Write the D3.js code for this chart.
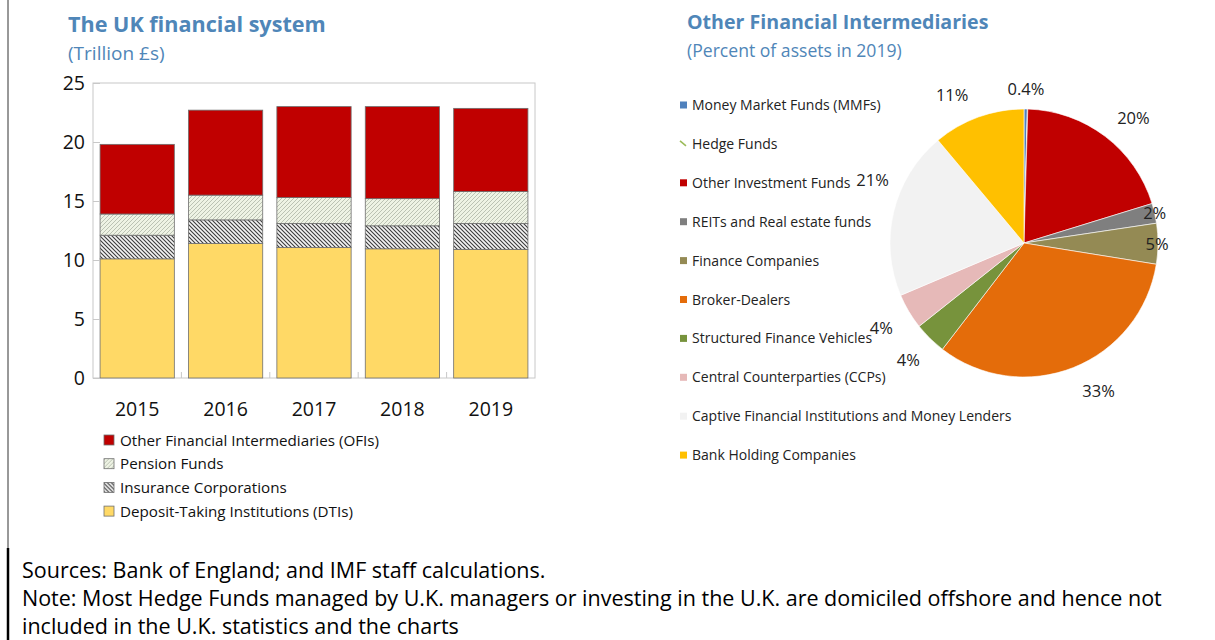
<!DOCTYPE html>
<html>
<head>
<meta charset="utf-8">
<script src="https://cdn.jsdelivr.net/npm/d3@7"></script>
<style>
  body { margin: 0; background: #fff; }
  text { font-family: "Open Sans", "Noto Sans", sans-serif; }
</style>
</head>
<body>
<script>
// bar chart data (trillion £)
var years = ["2015", "2016", "2017", "2018", "2019"];
var dtis = [10.1, 11.4, 11.05, 10.95, 10.9];
var insurance = [2.0, 2.0, 2.05, 1.95, 2.2];
var pensions = [1.8, 2.1, 2.2, 2.3, 2.7];
var ofis = [5.9, 7.2, 7.7, 7.8, 7.05];
var yTicks = [0, 5, 10, 15, 20, 25];

// pie data (percent of OFI assets in 2019)
var pieNames = ["Money Market Funds (MMFs)", "Hedge Funds", "Other Investment Funds",
  "REITs and Real estate funds", "Finance Companies", "Broker-Dealers",
  "Structured Finance Vehicles", "Central Counterparties (CCPs)",
  "Captive Financial Institutions and Money Lenders", "Bank Holding Companies"];
var pieValues = [0.4, 0.05, 19.8, 2.4, 4.9, 32.9, 3.9, 4.3, 20.3, 11.1];
var pieLabels = ["0.4%", "", "20%", "2%", "5%", "33%", "4%", "4%", "21%", "11%"];

var w = 1215;
var h = 640;

var svg = d3.select("body")
            .append("svg")
            .attr("width", w)
            .attr("height", h);

svg.append("rect").attr("width", w).attr("height", h).attr("fill", "#fff");

// hatch patterns
var defs = svg.append("defs");
var pPen = defs.append("pattern")
    .attr("id", "pension")
    .attr("patternUnits", "userSpaceOnUse")
    .attr("width", 4).attr("height", 4);
pPen.append("rect").attr("width", 4).attr("height", 4).attr("fill", "#eef3e4");
pPen.append("path").attr("d", "M-1,1 l2,-2 M0,4 l4,-4 M3,5 l2,-2")
    .attr("stroke", "#b5bcae").attr("stroke-width", 0.9);

var pIns = defs.append("pattern")
    .attr("id", "insurance")
    .attr("patternUnits", "userSpaceOnUse")
    .attr("width", 4).attr("height", 4);
pIns.append("rect").attr("width", 4).attr("height", 4).attr("fill", "#f4f4f4");
pIns.append("path").attr("d", "M-1,3 l2,2 M0,0 l4,4 M3,-1 l2,2")
    .attr("stroke", "#3c3c3c").attr("stroke-width", 1.1);

var blue = "#4f86b8";

// ---------- left: stacked bars ----------
svg.append("text").attr("x", 68).attr("y", 32)
    .attr("font-size", 21.6).attr("font-weight", "bold").attr("fill", blue)
    .text("The UK financial system");
svg.append("text").attr("x", 68).attr("y", 60)
    .attr("font-size", 19).attr("fill", blue)
    .text("(Trillion £s)");

var plotL = 93, plotR = 535, plotT = 83, plotB = 378;

var x = d3.scaleBand()
    .domain(years)
    .range([plotL, plotR])
    .paddingInner(0.16)
    .paddingOuter(0.08);

var y = d3.scaleLinear()
    .domain([0, 25])
    .range([plotB, plotT]);

var series = [
  {key: "dti", name: "Deposit-Taking Institutions (DTIs)", vals: dtis, fill: "#ffd966"},
  {key: "ins", name: "Insurance Corporations", vals: insurance, fill: "url(#insurance)"},
  {key: "pen", name: "Pension Funds", vals: pensions, fill: "url(#pension)"},
  {key: "ofi", name: "Other Financial Intermediaries (OFIs)", vals: ofis, fill: "#c00000"}
];

var table = years.map(function(yr, i) {
  var row = {year: yr};
  series.forEach(function(s) { row[s.key] = s.vals[i]; });
  return row;
});

var stack = d3.stack().keys(series.map(function(s) { return s.key; }));
var stacked = stack(table);

// plot area frame
svg.append("rect")
    .attr("x", plotL).attr("y", plotT)
    .attr("width", plotR - plotL).attr("height", plotB - plotT)
    .attr("fill", "none").attr("stroke", "#c8c8c8").attr("stroke-width", 1);

var layers = svg.selectAll("g.layer")
    .data(stacked)
    .enter()
    .append("g")
    .attr("class", "layer")
    .attr("fill", function(d, i) { return series[i].fill; });

layers.selectAll("rect")
    .data(function(d) { return d; })
    .enter()
    .append("rect")
    .attr("x", function(d) { return x(d.data.year); })
    .attr("width", x.bandwidth())
    .attr("y", function(d) { return y(d[1]); })
    .attr("height", function(d) { return y(d[0]) - y(d[1]); })
    .attr("stroke", "#6f6f6f")
    .attr("stroke-width", 0.8);

// y axis (inside ticks)
var yAxis = d3.axisRight(y).tickValues(yTicks).tickSize(7).tickFormat("");
var yg = svg.append("g").attr("transform", "translate(" + plotL + ",0)").call(yAxis);
yg.select(".domain").remove();
yg.selectAll("line").attr("stroke", "#c8c8c8");

svg.selectAll("text.ytick")
    .data(yTicks)
    .enter()
    .append("text")
    .attr("class", "ytick")
    .attr("x", 85)
    .attr("y", function(d) { return y(d) + 7; })
    .attr("text-anchor", "end")
    .attr("font-size", 19.5)
    .attr("fill", "#111")
    .text(function(d) { return d; });

// category boundary ticks
var step = x.step();
svg.selectAll("line.xtick")
    .data(years.slice(1))
    .enter()
    .append("line")
    .attr("class", "xtick")
    .attr("x1", function(d) { return x(d) - (step - x.bandwidth()) / 2; })
    .attr("x2", function(d) { return x(d) - (step - x.bandwidth()) / 2; })
    .attr("y1", plotB).attr("y2", plotB - 6)
    .attr("stroke", "#c8c8c8");

svg.selectAll("text.xlab")
    .data(years)
    .enter()
    .append("text")
    .attr("class", "xlab")
    .attr("x", function(d) { return x(d) + x.bandwidth() / 2; })
    .attr("y", 416)
    .attr("text-anchor", "middle")
    .attr("font-size", 19.5)
    .attr("fill", "#111")
    .text(function(d) { return d; });

// bar legend (top series first)
var legendOrder = series.slice().reverse();
var lg = svg.selectAll("g.barlegend")
    .data(legendOrder)
    .enter()
    .append("g")
    .attr("class", "barlegend")
    .attr("transform", function(d, i) { return "translate(104," + (440 + i * 23.7) + ")"; });
lg.append("rect")
    .attr("x", 0).attr("y", -5).attr("width", 10).attr("height", 10)
    .attr("fill", function(d) { return d.fill; })
    .attr("stroke", "#6f6f6f").attr("stroke-width", 0.8);
lg.append("text")
    .attr("x", 16).attr("y", 5.5)
    .attr("font-size", 15.2)
    .attr("fill", "#111")
    .text(function(d) { return d.name; });

// ---------- right: pie ----------
svg.append("text").attr("x", 687).attr("y", 29)
    .attr("font-size", 19.6).attr("font-weight", "bold").attr("fill", blue)
    .text("Other Financial Intermediaries");
svg.append("text").attr("x", 687).attr("y", 57)
    .attr("font-size", 17.6).attr("fill", blue)
    .text("(Percent of assets in 2019)");

var pieColors = ["#4f81bd", "#9bbb59", "#c00000", "#7f7f7f", "#948a54",
  "#e46c0a", "#77933c", "#e6b9b8", "#f2f2f2", "#ffc000"];

var cx = 1024, cy = 243, r = 134;
var pie = d3.pie().sort(null);
var arc = d3.arc().innerRadius(0).outerRadius(r);

var slices = svg.append("g")
    .attr("transform", "translate(" + cx + "," + cy + ")")
    .selectAll("g.arc")
    .data(pie(pieValues))
    .enter()
    .append("g")
    .attr("class", "arc");

slices.append("path")
    .attr("fill", function(d, i) { return pieColors[i]; })
    .attr("stroke", "#fff")
    .attr("stroke-width", 0.6)
    .attr("d", arc);

// label distance from centre and angle nudge (degrees), per slice
var labelR = [154, 160, 166, 134, 133, 166, 165, 166, 164, 164];
var labelNudge = [0, 0, 4, 0, 0, -5, 0, 0, 9, -6];
slices.append("text")
    .attr("transform", function(d, i) {
      var a = (d.startAngle + d.endAngle) / 2 + labelNudge[i] * Math.PI / 180;
      return "translate(" + (Math.sin(a) * labelR[i]) + "," + (-Math.cos(a) * labelR[i]) + ")";
    })
    .attr("dy", "0.35em")
    .attr("text-anchor", "middle")
    .attr("font-size", 16.5)
    .attr("fill", "#222")
    .text(function(d, i) { return pieLabels[i]; });

// pie legend
var pl = svg.selectAll("g.pielegend")
    .data(pieNames)
    .enter()
    .append("g")
    .attr("class", "pielegend")
    .attr("transform", function(d, i) { return "translate(680," + (105 + i * 38.9) + ")"; });
pl.each(function(d, i) {
  var g = d3.select(this);
  if (i === 1) {
    g.append("line").attr("x1", 0).attr("y1", -3).attr("x2", 6).attr("y2", 2)
      .attr("stroke", pieColors[i]).attr("stroke-width", 1.6);
  } else {
    g.append("rect").attr("x", 0).attr("y", -3.5).attr("width", 7).attr("height", 7)
      .attr("fill", pieColors[i]);
  }
});
pl.append("text")
    .attr("x", 12).attr("y", 5)
    .attr("font-size", 14)
    .attr("fill", "#222")
    .text(function(d) { return d; });

// ---------- frame and notes ----------
svg.append("line").attr("x1", 8).attr("y1", 0).attr("x2", 8).attr("y2", 548)
    .attr("stroke", "#333").attr("stroke-width", 1);
svg.append("line").attr("x1", 8).attr("y1", 548).attr("x2", 8).attr("y2", 640)
    .attr("stroke", "#000").attr("stroke-width", 2.5);

var notes = ["Sources: Bank of England; and IMF staff calculations.",
  "Note: Most Hedge Funds managed by U.K. managers or investing in the U.K. are domiciled offshore and hence not",
  "included in the U.K. statistics and the charts"];
svg.selectAll("text.note")
    .data(notes)
    .enter()
    .append("text")
    .attr("class", "note")
    .attr("x", 22)
    .attr("y", function(d, i) { return 578 + i * 28; })
    .attr("font-size", 21.5)
    .attr("fill", "#000")
    .text(function(d) { return d; });
</script>
</body>
</html>
